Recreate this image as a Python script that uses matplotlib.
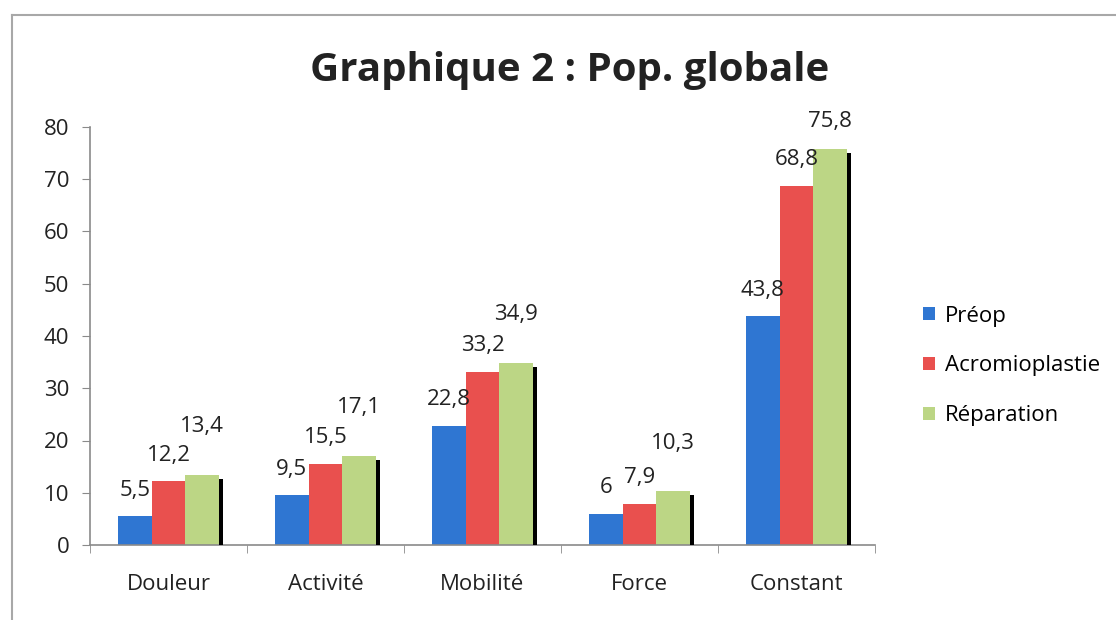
"""Graphique 2 : Pop. globale - barres groupées Préop / Acromioplastie / Réparation."""

import matplotlib

matplotlib.use("Agg")
import matplotlib.pyplot as plt  # noqa: E402
import numpy as np  # noqa: E402
from matplotlib.lines import Line2D  # noqa: E402

plt.rcParams["font.family"] = ["Open Sans", "DejaVu Sans"]

categories = ["Douleur", "Activité", "Mobilité", "Force", "Constant"]
series_names = ["Préop", "Acromioplastie", "Réparation"]
preop = [5.5, 9.5, 22.8, 6, 43.8]
acromio = [12.2, 15.5, 33.2, 7.9, 68.8]
reparation = [13.4, 17.1, 34.9, 10.3, 75.8]
yticks = [0, 10, 20, 30, 40, 50, 60, 70, 80]

colors = ["#2f76d2", "#e9504e", "#bcd685"]
AXIS_GRAY = "#8a8a8a"
FS = 16


def fmt(v):
    s = f"{v:g}"
    return s.replace(".", ",")


fig = plt.figure(figsize=(11.16, 6.2), dpi=100)
ax = fig.add_axes([90 / 1116, 1 - 545 / 620, (875 - 90) / 1116, (545 - 127) / 620])

x = np.arange(len(categories))
w = 0.215
offsets = [-w, 0.0, w]
label_lift = [5.0, 5.0, 9.2]
for vals, off, col, name, lift in zip((preop, acromio, reparation), offsets,
                                      colors, series_names, label_lift):
    ax.bar(x + off, vals, width=w, color=col, label=name, zorder=2)
    for xi, v in zip(x, vals):
        ax.text(xi + off, min(v + lift, 81.0), fmt(v), ha="center", va="center",
                fontsize=FS, color="#222222", zorder=4, clip_on=False)

# ombre noire à droite des barres vertes
shadow = [v - 0.8 for v in reparation]
ax.bar(x + w + w / 2 + 0.012, shadow, width=0.022, color="black", zorder=3)

ax.set_xlim(-0.5, len(categories) - 0.5)
ax.set_ylim(0, 80)
ax.set_yticks(yticks)
ax.set_yticklabels([str(t) for t in yticks], fontsize=FS, color="#222222")
ax.set_xticks(x)
ax.set_xticklabels(categories, fontsize=FS, color="#222222")
ax.tick_params(axis="x", length=0, pad=21)
ax.set_xticks(np.arange(len(categories) + 1) - 0.5, minor=True)
ax.tick_params(axis="x", which="minor", length=6, color=AXIS_GRAY, direction="out")
ax.tick_params(axis="y", length=6, color=AXIS_GRAY, direction="out", pad=9)
for side in ("top", "right"):
    ax.spines[side].set_visible(False)
for side in ("left", "bottom"):
    ax.spines[side].set_color(AXIS_GRAY)
    ax.spines[side].set_linewidth(1.2)

ax.legend(loc="center left", bbox_to_anchor=(903 / 1116, 1 - 366 / 620),
          bbox_transform=fig.transFigure, frameon=False, fontsize=FS,
          handlelength=0.55, handleheight=0.55, handletextpad=0.45, labelspacing=1.3)

fig.text(570 / 1116, 1 - 70 / 620, "Graphique 2 : Pop. globale", ha="center",
         va="center", fontsize=29, fontweight="bold", color="#222222")

# cadre du graphique (haut et gauche visibles)
fig.add_artist(Line2D([12 / 1116, 1], [1 - 15 / 620, 1 - 15 / 620],
                      transform=fig.transFigure, color="#a8a8a8", lw=1.5))
fig.add_artist(Line2D([12 / 1116, 12 / 1116], [0, 1 - 15 / 620],
                      transform=fig.transFigure, color="#a8a8a8", lw=1.5))

fig.savefig("out.png", dpi=100)
